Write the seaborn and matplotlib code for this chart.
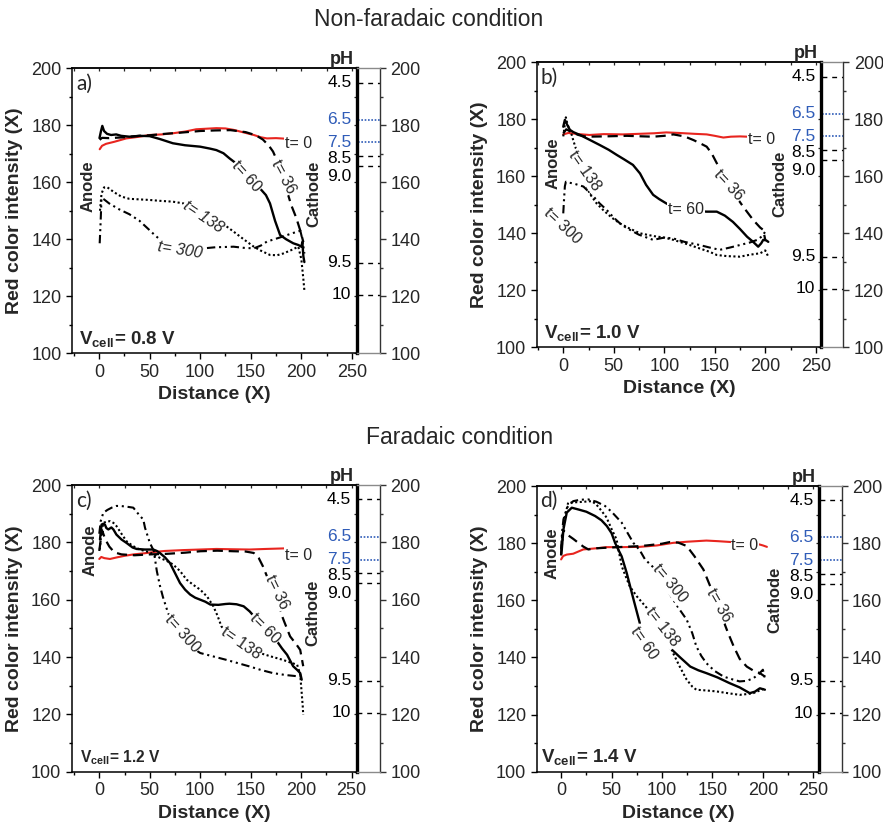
import numpy as np
import pandas as pd
import matplotlib
matplotlib.use("Agg")
import matplotlib.pyplot as plt
from matplotlib.ticker import MultipleLocator
import seaborn as sns

sns.set_style("ticks")
plt.rcParams["font.family"] = ["Liberation Sans", "DejaVu Sans"]
plt.rcParams["mathtext.fontset"] = "custom"
plt.rcParams["mathtext.rm"] = "Liberation Sans"
plt.rcParams["mathtext.bf"] = "Liberation Sans:bold"
plt.rcParams["mathtext.it"] = "Liberation Sans:italic"

# ---------------------------------------------------------------- data
TIMES = ["t= 0", "t= 36", "t= 60", "t= 138", "t= 300"]
VCELL = ["0.8", "1.0", "1.2", "1.4"]
PANEL_TAGS = ["a)", "b)", "c)", "d)"]
PH_VALUES = ["4.5", "6.5", "7.5", "8.5", "9.0", "9.5", "10"]
PH_INTENSITY = [195.0, 182.0, 174.0, 169.3, 165.8, 131.8, 120.5]
PH_BLUE = ["6.5", "7.5"]
RIGHT_TICKS = [100, 120, 140, 160, 180, 200]

# panel a  (V = 0.8 V)
a_t0_x = [0.7, 3, 7, 15, 27, 40, 50, 62, 73, 85, 96, 106, 116, 125, 133, 143, 153, 160, 166, 175, 184]
a_t0_y = [171.6, 172.8, 173.5, 174.2, 175.4, 176.0, 176.6, 176.8, 177.2, 177.8, 178.6, 178.8, 179.0, 178.9, 178.4, 177.5, 176.6, 175.8, 175.4, 175.5, 175.3]
a_t36_x = [0.7, 3, 10, 25, 40, 50, 65, 80, 100, 115, 130, 145, 155, 162, 168, 172, 178, 184, 190, 195, 199, 202]
a_t36_y = [174.9, 175.6, 175.5, 175.8, 176.3, 176.5, 177.0, 177.4, 178.0, 178.2, 178.3, 177.6, 176.5, 175.0, 172.8, 170.8, 166.0, 159.0, 152.0, 147.5, 143.0, 139.0]
a_t60_x = [0.5, 2, 3.3, 5, 8, 12, 17, 22, 30, 40, 50, 60, 73, 85, 100, 110, 116, 123, 129, 136, 145, 152, 159, 165, 169, 174, 179, 185, 192, 197, 200, 201, 202, 203]
a_t60_y = [175.5, 178.0, 179.8, 178.0, 177.0, 176.6, 176.8, 176.3, 176.0, 176.3, 176.2, 175.2, 173.7, 173.0, 172.5, 171.8, 171.3, 170.2, 168.4, 166.5, 163.0, 160.5, 157.9, 155.5, 152.6, 146.5, 141.5, 140.0, 138.6, 138.0, 137.4, 139.0, 134.0, 132.0]
a_t138_x = [1, 2.5, 5, 8, 15, 22, 30, 40, 50, 60, 73, 85, 95, 105, 115, 125, 133, 143, 153, 160, 169, 176, 182, 190, 197, 200, 202, 203]
a_t138_y = [150.0, 156.0, 158.2, 158.3, 156.5, 155.0, 154.2, 154.0, 153.8, 153.5, 153.2, 152.5, 151.0, 149.0, 147.0, 144.8, 142.7, 140.0, 137.4, 136.0, 134.5, 134.4, 135.0, 136.2, 137.4, 133.0, 126.0, 122.0]
a_t300_x = [0.7, 1.5, 2.5, 5, 10, 20, 30, 40, 50, 55, 60, 65, 75, 90, 103, 115, 125, 133, 143, 153, 160, 166, 175, 182, 190, 199, 201, 203]
a_t300_y = [138.6, 145.0, 154.5, 154.0, 152.6, 150.5, 148.8, 146.5, 143.2, 141.5, 140.0, 138.8, 137.5, 137.0, 136.8, 137.2, 137.3, 137.4, 137.0, 136.8, 137.8, 139.2, 140.2, 141.0, 142.0, 143.0, 140.0, 135.0]

# panel b  (V = 1.0 V)
b_t0_x = [0, 5, 15, 26, 40, 59, 75, 90, 102, 115, 130, 142, 150, 158.5, 166, 175, 182]
b_t0_y = [174.7, 175.2, 174.8, 174.5, 174.8, 174.7, 174.9, 175.1, 175.4, 175.2, 174.9, 174.7, 174.2, 173.6, 173.9, 174.0, 173.9]
b_t36_x = [0, 3, 8, 15, 23, 40, 63, 80, 89, 100, 109, 120, 129, 136, 142, 147, 152, 160, 168, 178, 188, 195, 198, 200]
b_t36_y = [175.0, 176.5, 175.5, 174.5, 173.9, 174.0, 174.2, 174.0, 173.9, 174.2, 174.7, 174.0, 172.7, 171.5, 170.4, 168.0, 164.6, 159.5, 154.5, 149.4, 144.7, 142.0, 141.2, 137.7]
b_t60_x = [0, 1.6, 4, 6.6, 10, 16.5, 25, 36, 45, 53, 60, 69, 76, 82, 89, 95, 102, 110, 120, 130, 142, 152, 160, 168, 175, 182, 188, 193, 196, 198, 201, 203]
b_t60_y = [177.4, 179.8, 178.0, 176.3, 175.5, 174.5, 173.0, 171.0, 169.3, 167.5, 166.0, 164.0, 161.0, 157.0, 153.5, 152.0, 150.5, 149.0, 148.2, 147.8, 147.6, 147.6, 146.2, 144.0, 141.5, 138.8, 137.0, 135.3, 136.5, 137.7, 137.5, 137.0]
b_t138_x = [0, 1.5, 2.6, 4, 6, 8, 10, 13, 18, 26, 33, 40, 48, 56, 65, 76, 90, 100, 109, 120, 135, 145, 152, 162, 175, 185, 195, 200, 203]
b_t138_y = [174.0, 178.0, 180.7, 178.5, 176.5, 175.0, 172.5, 169.2, 162.0, 154.0, 150.5, 148.0, 145.5, 143.5, 141.8, 140.0, 139.0, 138.5, 137.7, 136.5, 134.7, 133.5, 132.4, 132.0, 131.8, 132.5, 133.0, 134.0, 131.8]
b_t300_x = [0, 0.8, 1.6, 2.6, 5, 10, 20, 30, 36, 43, 50, 57, 63, 75, 89, 100, 109, 120, 135, 145, 155, 165, 175, 185, 192, 197, 200]
b_t300_y = [147.0, 152.0, 156.5, 158.1, 157.8, 157.5, 156.4, 152.9, 150.5, 148.2, 145.5, 143.2, 141.8, 139.5, 137.7, 138.5, 138.2, 137.0, 135.9, 135.0, 134.2, 135.0, 135.9, 136.8, 137.7, 139.0, 140.6]

# panel c  (V = 1.2 V)
c_t0_x = [0, 2, 5, 10.6, 18, 25, 34, 45, 53.5, 65, 83, 100, 116, 130, 149, 165, 184]
c_t0_y = [174.2, 174.9, 174.5, 174.2, 174.8, 175.3, 175.8, 176.2, 176.6, 177.0, 177.3, 177.5, 177.7, 177.6, 177.5, 177.7, 177.9]
c_t36_x = [0, 1.5, 3, 6, 10, 15, 22, 35, 50, 67, 85, 100, 117, 133, 145, 153, 158, 162, 168, 176, 183, 189, 195, 199, 202]
c_t36_y = [177.0, 181.0, 184.0, 181.0, 178.5, 176.5, 175.8, 175.5, 175.8, 176.0, 176.4, 176.9, 177.1, 176.9, 176.8, 176.3, 174.5, 171.7, 166.5, 159.0, 152.5, 147.2, 144.5, 142.5, 136.8]
c_t60_x = [0.7, 2.3, 4, 5.6, 7, 9, 12, 14, 17, 22, 27, 33, 37, 45, 53.5, 57, 60, 65, 70, 75, 80, 85, 90, 95, 100, 105, 110, 118, 125, 129, 136, 143, 149, 155, 160, 165, 170, 176, 181, 186, 192, 196, 199, 200.5]
c_t60_y = [181.0, 186.2, 186.5, 186.2, 185.0, 184.5, 185.2, 184.5, 182.7, 181.0, 179.8, 178.2, 177.7, 177.5, 177.5, 177.0, 176.3, 174.8, 172.8, 169.3, 165.8, 163.5, 161.8, 160.7, 160.0, 159.3, 158.3, 158.2, 158.5, 158.6, 158.4, 157.7, 155.9, 153.5, 151.0, 149.0, 147.5, 145.5, 143.0, 140.8, 136.8, 135.5, 134.4, 132.1]
c_t138_x = [0.5, 2, 4, 7, 10.6, 14, 17, 22, 27, 33, 40, 50, 60, 67, 73, 80, 86.5, 93, 100, 107, 113, 117, 121, 127, 135, 145, 159, 170, 182, 190, 196, 199, 200.5, 201.5, 202]
c_t138_y = [177.5, 183.0, 186.8, 187.2, 187.4, 186.8, 185.7, 183.0, 180.4, 178.8, 177.5, 176.5, 174.6, 173.5, 172.3, 170.0, 167.0, 165.2, 163.5, 161.0, 157.7, 154.5, 150.7, 148.0, 146.0, 143.5, 141.4, 140.2, 139.0, 138.0, 137.3, 134.0, 127.4, 123.0, 119.8]
c_t300_x = [0, 1.5, 4, 8, 12.3, 17, 20.5, 26, 33.7, 40.3, 43.6, 45.3, 50, 54, 57, 60, 63, 68, 75, 85, 100, 113, 126, 138, 149, 160, 172, 185, 199]
c_t300_y = [183.0, 187.5, 190.3, 191.3, 192.1, 192.7, 192.7, 192.5, 192.1, 189.2, 188.0, 185.1, 179.9, 177.0, 170.0, 165.0, 161.0, 155.5, 150.0, 145.0, 141.4, 140.2, 139.0, 137.8, 136.7, 135.5, 134.4, 133.7, 133.2]

# panel d  (V = 1.4 V)
d_t0_x = [0, 2, 5.6, 12, 22, 35, 45, 60, 78, 95, 111, 125, 144, 155, 168, 175, 185, 192, 197, 200, 204]
d_t0_y = [174.3, 175.5, 176.0, 176.3, 177.8, 178.2, 178.6, 178.6, 178.7, 179.2, 180.1, 180.5, 180.9, 180.7, 180.4, 180.3, 180.1, 179.9, 179.5, 179.2, 178.7]
d_t36_x = [0, 1, 2.3, 6, 12, 17.1, 22, 27, 35, 50, 62, 75, 85, 100, 108, 116, 124.5, 132, 141, 150, 158, 165, 171, 177, 184, 190, 197, 202]
d_t36_y = [176.0, 182.0, 184.5, 183.0, 181.5, 180.1, 178.8, 177.8, 178.2, 178.5, 178.7, 178.9, 179.2, 179.8, 180.4, 180.2, 179.0, 175.5, 170.8, 163.0, 155.5, 149.0, 143.9, 139.5, 136.8, 135.5, 134.5, 133.3]
d_t60_x = [0, 0.7, 2.3, 5.6, 10.6, 17, 25, 33.7, 40, 45.3, 50, 53.5, 57, 60, 65, 68.4, 72, 75, 78, np.nan, 108, 118, 128, 136, 144, 155, 167, 177, 187, 192, 197, 202]
d_t60_y = [176.0, 177.8, 184.8, 190.7, 192.4, 191.8, 191.0, 189.5, 188.0, 186.0, 183.5, 180.1, 177.5, 175.4, 169.6, 164.9, 160.0, 156.0, 152.0, np.nan, 143.3, 140.0, 136.8, 135.5, 134.5, 133.0, 131.0, 129.5, 127.5, 128.0, 129.2, 128.7]
d_t138_x = [0, 1, 3, 7, 8.9, 19, 30.4, 35, 40.3, 45, 50.2, 55, 56.8, 60.1, 65, 68, 75, 85, 95, 103, 111, 118, 124.5, 130, 134, 145, 154, 165, 177, 185, 190.5, 196, 202]
d_t138_y = [176.0, 180.0, 188.0, 194.2, 194.2, 194.4, 194.7, 193.5, 191.2, 189.0, 184.8, 181.3, 177.8, 171.9, 167.5, 164.9, 161.4, 157.3, 152.5, 148.5, 141.5, 136.5, 132.2, 129.8, 128.7, 128.4, 128.1, 127.5, 126.9, 127.2, 127.5, 128.3, 129.2]
d_t300_x = [0, 1, 2.3, 6, 12, 19, 27, 35, 43.6, 50, 60, 66, 71.6, 78, 83.2, 91.5, 100, 108, 116, 124.5, 130, 134, 139, 144, 152, 161, 170, 177, 184, 190.5, 196, 200, 202]
d_t300_y = [178.0, 184.0, 188.3, 192.5, 194.7, 195.2, 195.3, 194.5, 193.0, 191.0, 187.2, 183.5, 180.1, 177.5, 174.3, 171.5, 167.0, 162.0, 157.5, 153.2, 148.5, 143.9, 140.5, 138.0, 135.3, 133.3, 132.3, 131.6, 131.8, 132.7, 134.2, 135.7, 132.7]

PANEL_SERIES = [
    [(a_t0_x, a_t0_y), (a_t36_x, a_t36_y), (a_t60_x, a_t60_y), (a_t138_x, a_t138_y), (a_t300_x, a_t300_y)],
    [(b_t0_x, b_t0_y), (b_t36_x, b_t36_y), (b_t60_x, b_t60_y), (b_t138_x, b_t138_y), (b_t300_x, b_t300_y)],
    [(c_t0_x, c_t0_y), (c_t36_x, c_t36_y), (c_t60_x, c_t60_y), (c_t138_x, c_t138_y), (c_t300_x, c_t300_y)],
    [(d_t0_x, d_t0_y), (d_t36_x, d_t36_y), (d_t60_x, d_t60_y), (d_t138_x, d_t138_y), (d_t300_x, d_t300_y)],
]

# ---------------------------------------------------------------- styles
RED = "#e8251f"
BLUE = "#2f5cb8"
LINE_STYLE = {
    "t= 0":   dict(color=RED, linewidth=1.5, linestyle="-"),
    "t= 36":  dict(color="black", linewidth=1.6, linestyle=(0, (4.6, 2.6))),
    "t= 60":  dict(color="black", linewidth=1.7, linestyle="-"),
    "t= 138": dict(color="black", linewidth=1.5, linestyle=(0, (1.0, 1.2))),
    "t= 300": dict(color="black", linewidth=1.5, linestyle=(0, (4.0, 1.8, 1.0, 1.8, 1.0, 1.8))),
}

# layout of each panel: main axes rect, strip width, x-range, annotation spots
LAYOUT = [
    dict(rect=[0.0815, 0.5718, 0.3228, 0.3454], strip=0.0261, xlim=(-26.7, 255),
         tag=(-22.5, 194.7), anode=(-11, 158.5), cathode=(212, 156.0), vsize=13.5,
         labels=[(197, 173.5, 0, False), (182, 162.0, -62, False), (146, 162.0, -48, False),
                 (103, 148.0, -34, True), (80, 136.3, -9, True)]),
    dict(rect=[0.6078, 0.5790, 0.3220, 0.3455], strip=0.0252, xlim=(-26.3, 255.2),
         tag=(-23.0, 194.5), anode=(-10, 164.6), cathode=(214.7, 157.5), vsize=13.5,
         labels=[(196.5, 173.0, 0, False), (164, 157.0, -47, False), (121.5, 148.2, 0, False),
                 (21.5, 162.0, -55, False), (-1, 142.7, -43, False)]),
    dict(rect=[0.0812, 0.0646, 0.3228, 0.3475], strip=0.0264, xlim=(-27.3, 255),
         tag=(-22.5, 194.4), anode=(-9, 177.3), cathode=(212, 155.4), vsize=11.2,
         labels=[(197, 175.4, 0, False), (175.7, 162.6, -64, False), (164, 149.9, -45, False),
                 (140, 144.9, -35, False), (82, 148.1, -48, False)]),
    dict(rect=[0.6078, 0.0646, 0.3197, 0.3463], strip=0.0257, xlim=(-24.2, 255.6),
         tag=(-20.8, 194.7), anode=(-9.2, 176.6), cathode=(212, 160.2), vsize=13.5,
         labels=[(182.3, 179.2, 0, False), (156, 158.2, -60, False), (82.2, 144.9, -55, False),
                 (100.4, 150.6, -52, False), (108, 165.8, -50, False)]),
]
PH_LABEL_SHIFT = {"8.5": -0.8, "9.0": -3.6}


def draw_curve(ax, xs, ys, style):
    xs = np.asarray(xs, float)
    ys = np.asarray(ys, float)
    assert len(xs) == len(ys)
    gap = np.isnan(xs)
    df = pd.DataFrame({"x": xs, "y": ys, "seg": np.cumsum(gap)})[~gap]
    sns.lineplot(data=df, x="x", y="y", units="seg", estimator=None, sort=False,
                 ax=ax, legend=False, **style)


def draw_panel(fig, idx):
    lay = LAYOUT[idx]
    left, bottom, width, height = lay["rect"]
    ax = fig.add_axes([left, bottom, width, height])

    for name, (xs, ys) in zip(TIMES, PANEL_SERIES[idx]):
        draw_curve(ax, xs, ys, LINE_STYLE[name])

    for name, (lx, ly, rot, ital) in zip(TIMES, lay["labels"]):
        ax.text(lx, ly, name, rotation=rot, rotation_mode="anchor", ha="center", va="center",
                fontsize=11.5, style="italic" if ital else "normal", zorder=6,
                bbox=dict(boxstyle="square,pad=0.05", fc="white", ec="none"))

    ax.set_xlim(*lay["xlim"])
    ax.set_ylim(100, 200)
    ax.xaxis.set_major_locator(MultipleLocator(50))
    ax.xaxis.set_minor_locator(MultipleLocator(25))
    ax.yaxis.set_major_locator(MultipleLocator(20))
    ax.yaxis.set_minor_locator(MultipleLocator(10))
    ax.tick_params(which="both", direction="out", top=False, right=False, color="black",
                   width=1.0, labelsize=13, pad=3)
    ax.tick_params(which="major", length=4.5)
    ax.tick_params(which="minor", length=2.5)
    for side in ("left", "bottom", "top"):
        ax.spines[side].set_linewidth(1.1)
        ax.spines[side].set_color("black")
    ax.spines["right"].set_visible(False)
    ax.set_xlabel("Distance (X)", fontsize=14, fontweight="bold", labelpad=4)
    ax.set_ylabel("Red color intensity (X)", fontsize=14, fontweight="bold", labelpad=6)

    top = ax.secondary_xaxis("top")
    top.xaxis.set_major_locator(MultipleLocator(50))
    top.xaxis.set_minor_locator(MultipleLocator(25))
    top.tick_params(which="both", direction="in", labeltop=False, length=2.5, width=0.9)
    top.spines["top"].set_linewidth(1.1)

    right = ax.secondary_yaxis("right")
    right.yaxis.set_major_locator(MultipleLocator(20))
    right.yaxis.set_minor_locator(MultipleLocator(10))
    right.tick_params(which="both", direction="in", labelright=False, length=2.5, width=0.9)
    right.spines["right"].set_visible(False)

    ax.text(lay["tag"][0], lay["tag"][1], PANEL_TAGS[idx], fontsize=15,
            family=["Lato", "DejaVu Sans"], ha="left", va="center")
    ax.text(lay["anode"][0], lay["anode"][1], "Anode", rotation=90, fontsize=12,
            fontweight="bold", ha="center", va="center")
    ax.text(lay["cathode"][0], lay["cathode"][1], "Cathode", rotation=90, fontsize=12,
            fontweight="bold", ha="center", va="center")
    ax.text(-19.5, 103.3, r"$\mathbf{V_{cell}}$= " + VCELL[idx] + " V", fontsize=lay["vsize"],
            fontweight="bold", ha="left", va="baseline")

    # pH reference strip attached to the right side
    axs = fig.add_axes([left + width, bottom, lay["strip"], height])
    axs.set_xlim(0, 1)
    axs.set_ylim(100, 200)
    axs.set_xticks([])
    axs.yaxis.tick_right()
    axs.set_yticks(RIGHT_TICKS)
    axs.yaxis.set_minor_locator(MultipleLocator(10))
    axs.tick_params(axis="y", which="both", direction="out", left=False, right=True,
                    labelsize=13, width=1.0, color="#333333", pad=3)
    axs.tick_params(axis="y", which="major", length=4.5)
    axs.tick_params(axis="y", which="minor", length=2.5)
    axs.spines["left"].set_linewidth(2.4)
    axs.spines["left"].set_color("black")
    axs.spines["right"].set_linewidth(1.0)
    axs.spines["right"].set_color("#333333")
    for side in ("top", "bottom"):
        axs.spines[side].set_linewidth(1.0)
        axs.spines[side].set_color("#8a8a8a")
        axs.spines[side].set_linestyle((0, (1, 1)))

    for lab, lvl in zip(PH_VALUES, PH_INTENSITY):
        blue = lab in PH_BLUE
        axs.hlines(lvl, 0.03, 1.0, colors=BLUE if blue else "black", linewidth=1.2 if blue else 1.0,
                   linestyles=(0, (1, 1)) if blue else (0, (3.5, 3.5)))
        axs.annotate(lab, xy=(0, lvl + PH_LABEL_SHIFT.get(lab, 0.0)),
                     xycoords=("axes fraction", "data"), xytext=(-4, 0),
                     textcoords="offset points", ha="right", va="center",
                     fontsize=12.5, color=BLUE if blue else "black", annotation_clip=False)
    axs.annotate("pH", xy=(0, 1), xycoords="axes fraction", xytext=(-2, 0),
                 textcoords="offset points", ha="right", va="bottom",
                 fontsize=13, fontweight="bold", annotation_clip=False)


fig = plt.figure(figsize=(8.83, 8.25), dpi=100)
for i in range(4):
    draw_panel(fig, i)

fig.text(429 / 883, 1 - 20 / 825, "Non-faradaic condition", fontsize=16.5, ha="center", va="center")
fig.text(460 / 883, 1 - 438 / 825, "Faradaic condition", fontsize=16.5, ha="center", va="center")

fig.savefig("out.png", dpi=100)
